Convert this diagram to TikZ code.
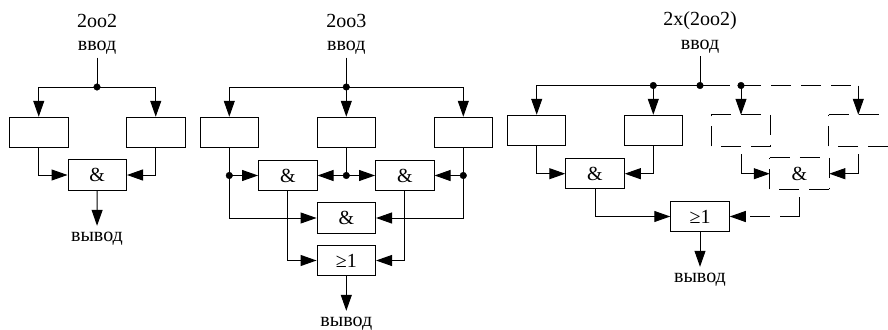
\documentclass[tikz,border=0pt]{standalone}
\usepackage{fontspec}
\setmainfont{Liberation Serif}
\usetikzlibrary{arrows.meta}

\tikzset{
	block/.style={draw, line width=1pt, minimum width=58.5pt, minimum height=30.5pt, inner sep=0pt, font=\fontsize{20}{24}\selectfont},
	io/.style={inner sep=0pt, minimum height=22pt, text height=8pt, text depth=0pt, font=\fontsize{20}{24}\selectfont},
	heading/.style={inner sep=0pt, font=\fontsize{20}{24}\selectfont},
	wire/.style={line width=1pt},
	feed/.style={line width=1pt, -{Triangle[length=16pt, width=11pt]}},
	spare/.style={dash pattern=on 20pt off 10pt},
	sparedrop/.style={dash pattern=on 60pt off 8pt, dash phase=60pt},
	sparelink/.style={dash pattern=on 39pt off 10pt on 20pt off 30pt, dash phase=91pt}
}

\begin{document}
\begin{tikzpicture}[x=1pt, y=-1pt]
	\useasboundingbox (0,0) rectangle (888,329);

	\node[heading] (titleA) at (97,21) {2oo2};
	\node[io] (inA) at (97,46.5) {ввод};
	\node[shape=coordinate] (busA) at (97,87) {};
	\node[block] (boxA1) at (38.75,132.5) {};
	\node[block] (boxA2) at (155.75,132.5) {};
	\node[block] (andA) at (97.25,175) {\&};
	\node[io] (outA) at (97,237) {вывод};
	\draw[wire] (inA) -- (busA);
	\draw[feed] (busA) -| (boxA1);
	\draw[feed] (busA) -| (boxA2);
	\draw[feed] (boxA1) |- (andA);
	\draw[feed] (boxA2) |- (andA);
	\draw[feed] (andA) -- (outA);
	\filldraw[black] (busA) circle (3.3);

	\node[heading] (titleB) at (346.3,21) {2oo3};
	\node[io] (inB) at (346.3,46.5) {ввод};
	\node[shape=coordinate] (busB) at (346.3,87) {};
	\node[block] (boxB1) at (229.3,132.5) {};
	\node[block] (boxB2) at (346.3,132.5) {};
	\node[block] (boxB3) at (463.3,132.5) {};
	\node[block] (andB1) at (287.8,175.5) {\&};
	\node[block] (andB2) at (404.8,175.5) {\&};
	\node[block] (andB3) at (346.3,218) {\&};
	\node[block] (orB) at (346.3,260.5) {≥1};
	\node[io] (outB) at (346.3,322) {вывод};
	\node[shape=coordinate] (tapB1) at (229.3,175.5) {};
	\node[shape=coordinate] (tapB2) at (346.3,175.5) {};
	\node[shape=coordinate] (tapB3) at (463.3,175.5) {};
	\draw[wire] (inB) -- (busB);
	\draw[feed] (busB) -| (boxB1);
	\draw[feed] (busB) -- (boxB2);
	\draw[feed] (busB) -| (boxB3);
	\draw[wire] (boxB1) -- (tapB1);
	\draw[wire] (boxB2) -- (tapB2);
	\draw[wire] (boxB3) -- (tapB3);
	\draw[feed] (tapB1) -- (andB1);
	\draw[feed] (tapB2) -- (andB1);
	\draw[feed] (tapB2) -- (andB2);
	\draw[feed] (tapB3) -- (andB2);
	\draw[feed] (tapB1) |- (andB3);
	\draw[feed] (tapB3) |- (andB3);
	\draw[feed] (andB1) |- (orB);
	\draw[feed] (andB2) |- (orB);
	\draw[feed] (orB) -- (outB);
	\filldraw[black] (busB) circle (3.3);
	\filldraw[black] (tapB1) circle (3.3);
	\filldraw[black] (tapB2) circle (3.3);
	\filldraw[black] (tapB3) circle (3.3);

	\node[heading] (titleC) at (700,21) {2x(2oo2)};
	\node[io] (inC) at (700,45) {ввод};
	\node[shape=coordinate] (busC) at (700,85.5) {};
	\node[shape=coordinate] (tapC1) at (653.3,85.5) {};
	\node[shape=coordinate] (tapC2) at (741,85.5) {};
	\node[shape=coordinate] (turnC) at (858.3,85.5) {};
	\node[block] (boxC1) at (536.7,130.5) {};
	\node[block] (boxC2) at (653.3,130.5) {};
	\node[block, draw=none] (boxC3) at (741,130.5) {};
	\node[block, draw=none] (boxC4) at (858.3,130.5) {};
	\node[block] (andC1) at (595,173.7) {\&};
	\node[block, draw=none] (andC2) at (799.5,173.7) {\&};
	\node[block] (orC) at (700,216.5) {≥1};
	\node[io] (outC) at (700,278) {вывод};
	\draw[wire] (inC) -- (busC);
	\draw[feed] (busC) -- (tapC1) -| (boxC1);
	\draw[feed] (tapC1) -- (boxC2);
	\draw[feed] (boxC1) |- (andC1);
	\draw[feed] (boxC2) |- (andC1);
	\draw[feed] (andC1) |- (orC);
	\draw[feed] (orC) -- (outC);
	\begin{scope}[spare]
		\draw[wire] (boxC3.south west) -- (boxC3.north west) (boxC3.north west) -- (boxC3.north east) (boxC3.north east) -- (boxC3.south east) (boxC3.south east) -- (boxC3.south west);
		\draw[wire] (boxC4.south west) -- (boxC4.north west) (boxC4.north west) -- (boxC4.north east) (boxC4.north east) -- (boxC4.south east) (boxC4.south east) -- (boxC4.south west);
		\draw[wire] (andC2.south west) -- (andC2.north west) (andC2.north west) -- (andC2.north east) (andC2.north east) -- (andC2.south east) (andC2.south east) -- (andC2.south west);
		\draw[wire, dash pattern=on 30pt off 10pt] (busC) -- (tapC2);
		\draw[wire] (tapC2) -- (turnC);
		\draw[feed] (turnC) -- (boxC4);
		\draw[feed] (tapC2) -- (boxC3);
		\draw[feed, sparedrop] (boxC3) |- (andC2);
		\draw[feed, sparedrop] (boxC4) |- (andC2);
		\draw[feed, sparelink] (andC2) |- (orC);
	\end{scope}
	\filldraw[black] (busC) circle (3.3);
	\filldraw[black] (tapC1) circle (3.3);
	\filldraw[black] (tapC2) circle (3.3);
\end{tikzpicture}
\end{document}
